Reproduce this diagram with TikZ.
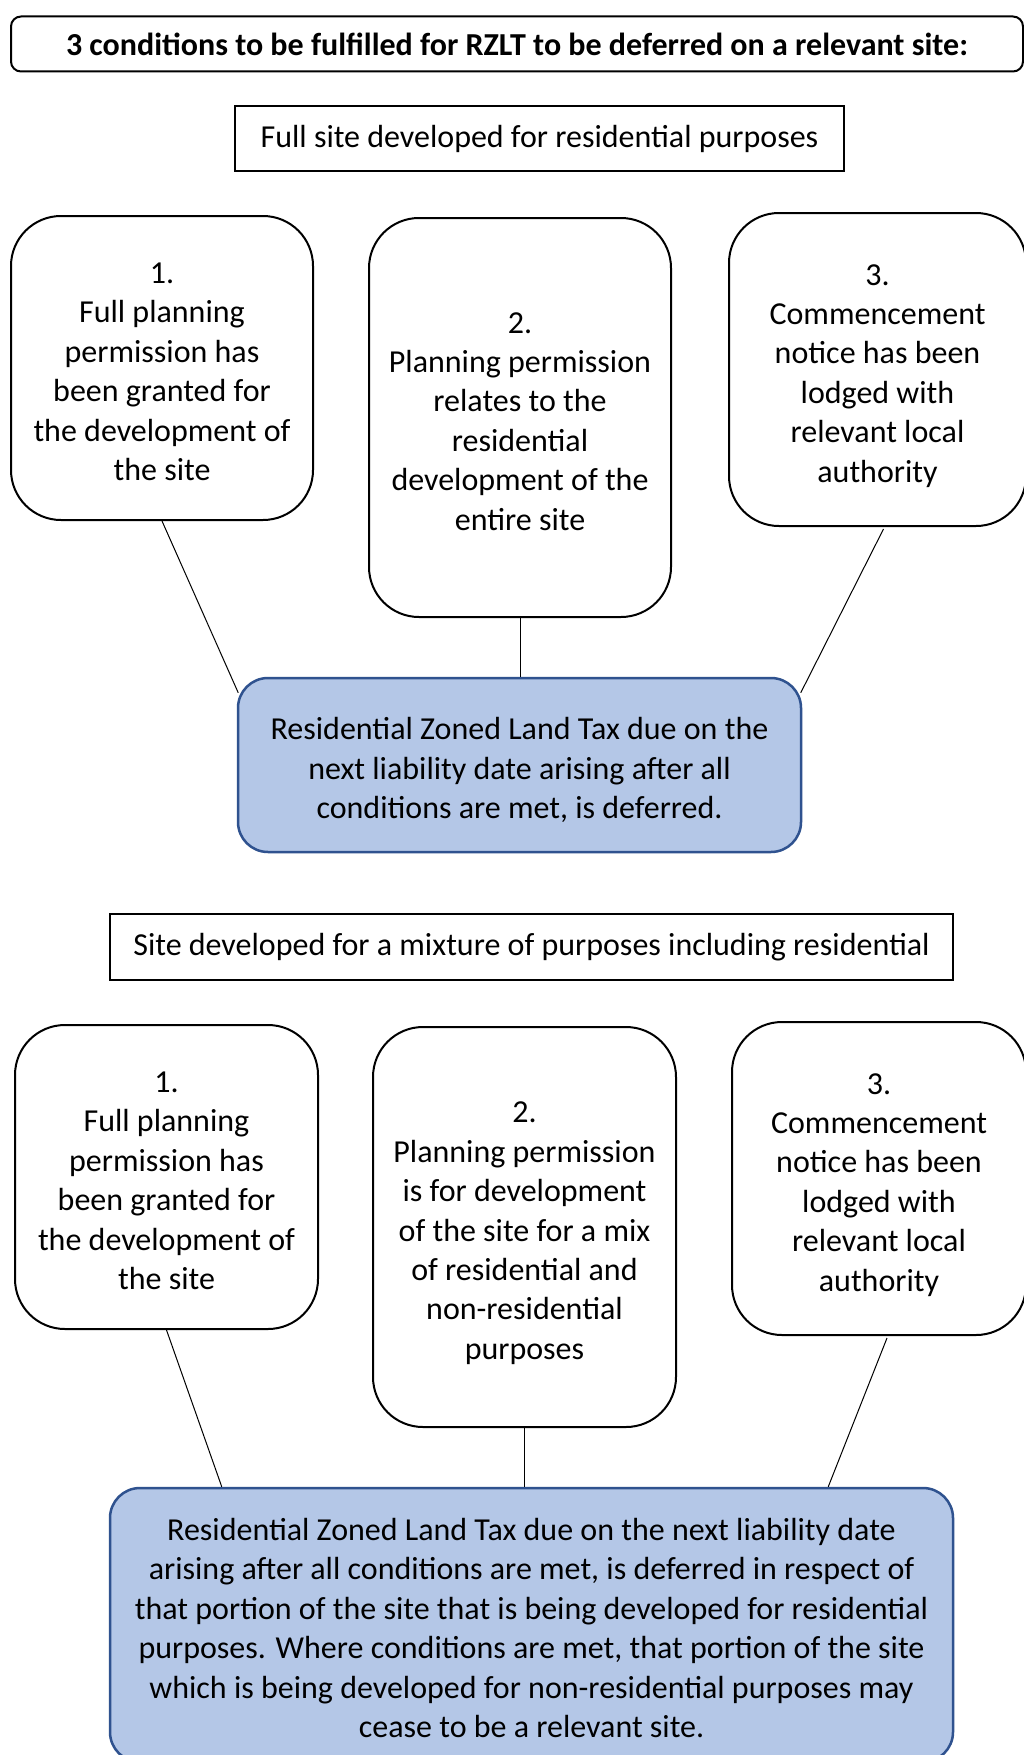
\documentclass[tikz,border=0pt]{standalone}
\usepackage{fontspec}
\setmainfont{Carlito}
\usetikzlibrary{calc}
\definecolor{resfill}{HTML}{B4C7E7}
\definecolor{resdraw}{HTML}{2F528F}
\newcommand{\tpl}{\rule{0pt}{36pt}}
\newcommand{\btl}{\rule[-8pt]{0pt}{8pt}}
\begin{document}
\begin{tikzpicture}[x=1pt,y=-1pt,
  txt/.style={font=\fontsize{32}{39.4}\selectfont, align=center, inner sep=0pt},
  condbox/.style={txt, draw=black, line width=2pt, rounded corners=50pt},
  headbox/.style={txt, draw=black, line width=1.3pt},
  resbox/.style={txt, draw=resdraw, fill=resfill, line width=2.5pt, rounded corners=30pt},
  link/.style={draw=black, line width=1pt}]
\useasboundingbox (0,0) rectangle (1024,1755);
\fill[white] (0,0) rectangle (1024,1755);

\node[draw=black, line width=2pt, rounded corners=10pt, minimum width=1012pt, minimum height=55pt, inner sep=0pt,
  font=\fontsize{32}{38}\selectfont\bfseries] (title) at (517,44) {3 conditions to be fulfilled for RZLT to be deferred on a relevant site:};

\node[headbox, minimum width=609pt, minimum height=65pt] (h1) at (539.5,138.5) {Full site developed for residential purposes};

\node[condbox, minimum width=302pt, minimum height=304pt] (b1) at (162,368) {\tpl 1.\\Full planning\\permission has\\been granted for\\the development of\\the site\btl};
\node[condbox, minimum width=302pt, minimum height=399pt] (b2) at (520,417.5) {\tpl 2.\\Planning permission\\relates to the\\residential\\development of the\\entire site\btl};
\node[condbox, minimum width=297pt, minimum height=313pt] (b3) at (877.5,369.5) {\tpl 3.\\Commencement\\notice has been\\lodged with\\relevant local\\authority\btl};

\node[resbox, minimum width=563pt, minimum height=174pt] (r1) at (519.5,765) {\tpl Residential Zoned Land Tax due on the\\next liability date arising after all\\conditions are met, is deferred.\btl};

\coordinate (r1l) at ($(r1.north west)+(1.5,16)$);
\coordinate (r1r) at ($(r1.north east)+(-1.5,16)$);
\draw[link] (b1.south) -- (r1l);
\draw[link] (b2.south) -- (b2.south |- r1.north);
\draw[link] ($(b3.south)+(6,2)$) -- (r1r);

\node[headbox, minimum width=843pt, minimum height=66pt] (h2) at (531.5,947) {Site developed for a mixture of purposes including residential};

\node[condbox, minimum width=303pt, minimum height=304pt] (b4) at (166.5,1177) {\tpl 1.\\Full planning\\permission has\\been granted for\\the development of\\the site\btl};
\node[condbox, minimum width=303pt, minimum height=400pt] (b5) at (524.5,1227) {\tpl 2.\\Planning permission\\is for development\\of the site for a mix\\of residential and\\non-residential\\purposes\btl};
\node[condbox, minimum width=294pt, minimum height=313pt] (b6) at (879,1178.5) {\tpl 3.\\Commencement\\notice has been\\lodged with\\relevant local\\authority\btl};

\node[resbox, minimum width=843pt, minimum height=274pt] (r2) at (531.5,1625) {\tpl Residential Zoned Land Tax due on the next liability date\\arising after all conditions are met, is deferred in respect of\\that portion of the site that is being developed for residential\\purposes. Where conditions are met, that portion of the site\\which is being developed for non-residential purposes may\\cease to be a relevant site.\btl};

\coordinate (r2l) at ($(r2.north west)+(113,0)$);
\coordinate (r2r) at ($(r2.north east)+(-126,0)$);
\draw[link] (b4.south) -- (r2l);
\draw[link] (b5.south) -- (b5.south |- r2.north);
\draw[link] ($(b6.south)+(8,2)$) -- (r2r);
\end{tikzpicture}
\end{document}
